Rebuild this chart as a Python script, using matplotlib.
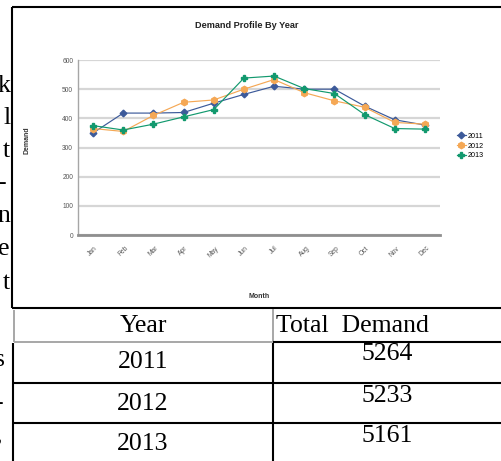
import matplotlib
matplotlib.use("Agg")
from matplotlib import pyplot as plt
from matplotlib.lines import Line2D

months = ["Jan", "Feb", "Mar", "Apr", "May", "Jun", "Jul", "Aug", "Sep", "Oct", "Nov", "Dec"]
years = ["2011", "2012", "2013"]
demand_2011 = [350, 418, 418, 420, 452, 482, 510, 500, 500, 442, 395, 377]
demand_2012 = [365, 355, 410, 455, 463, 500, 533, 488, 460, 438, 386, 380]
demand_2013 = [375, 360, 380, 405, 430, 538, 545, 502, 485, 413, 365, 363]
colors = ["#3c5a9a", "#f5a855", "#12996e"]
markers = ["D", "h", "P"]

W, H = 501, 461
chart_font = ["Liberation Sans", "DejaVu Sans"]
serif_font = ["Liberation Serif", "DejaVu Serif"]

fig = plt.figure(figsize=(W / 100, H / 100), dpi=100)

# page layer in pixel coordinates: chart frame, table grid, clipped body text
page = fig.add_axes([0, 0, 1, 1])
page.set_xlim(0, W)
page.set_ylim(H, 0)
page.axis("off")

def seg(x0, y0, x1, y1, color="black", lw=1.5):
    page.add_line(Line2D([x0, x1], [y0, y1], color=color, lw=lw, solid_capstyle="butt"))

# chart frame
seg(12.5, 7.5, W, 7.5)
seg(12.5, 7.5, 12.5, 308)
seg(12.5, 308, W, 308)

# table grid
col_x = 273
seg(14, 310, 14, 342, color="#a0a0a0", lw=1.3)
seg(14, 342, col_x, 342, color="#a0a0a0", lw=1.3)
seg(col_x, 309, col_x, 342, color="#a0a0a0", lw=1.3)
seg(col_x, 342, W, 342)
seg(13, 343, 13, H)
seg(col_x, 343, col_x, H)
for y in [383, 423]:
    seg(13, y, W, y)

page.text(143, 326, "Year", ha="center", va="center", fontsize=18.5, family=serif_font)
page.text(276, 326, "Total  Demand", ha="left", va="center", fontsize=18.5, family=serif_font)
series = [demand_2011, demand_2012, demand_2013]
totals = [sum(s) for s in series]
for yr, tot, yc, yv in zip(years, totals, [362, 404, 444], [354, 396, 436]):
    page.text(143, yc, yr, ha="center", va="center", fontsize=18.5, family=serif_font)
    page.text(387, yv, str(tot), ha="center", va="center", fontsize=18.5, family=serif_font)

# ends of body-text lines cut by the left margin
for ch, x, y in [("k", 10, 92), ("l", 11, 124), ("t", 10, 157), ("-", 7, 189),
                 ("n", 10, 222), ("e", 10, 255), ("t", 10, 289),
                 ("s", 5, 366), ("-", 4, 409), (",", 3, 441)]:
    page.text(x, y, ch, ha="right", va="baseline", fontsize=18.5, family=serif_font)

# line chart
ax = fig.add_axes([78 / W, 1 - 235 / H, (440 - 78) / W, (235 - 60) / H])
x = range(len(months))
for yr, vals, c, m in zip(years, series, colors, markers):
    ms = 3.4 if m == "D" else 4.6
    ax.plot(x, vals, color=c, lw=0.85, marker=m, markersize=ms, label=yr)

ax.set_xlim(-0.5, len(months) - 0.5)
ax.set_ylim(0, 600)
ax.set_yticks(range(0, 601, 100))
ax.set_xticks(list(x))
ax.set_xticklabels(months, rotation=45, ha="center", family=chart_font)
for lbl in ax.get_yticklabels():
    lbl.set_family(chart_font)
ax.tick_params(axis="both", length=0, labelsize=4.8, labelcolor="#555555")
ax.tick_params(axis="y", pad=3.5)
ax.tick_params(axis="x", pad=7)
ax.yaxis.grid(True, color="#d6d6d6", lw=1.6)
ax.set_axisbelow(True)
for side in ["top", "right"]:
    ax.spines[side].set_visible(False)
ax.spines["left"].set_color("#a6a6a6")
ax.spines["left"].set_linewidth(1.0)
ax.spines["bottom"].set_color("#8f8f8f")
ax.spines["bottom"].set_linewidth(2.0)

fig.text(247 / W, 1 - 25 / H, "Demand Profile By Year", ha="center", va="center",
         fontsize=6.6, fontweight="bold", family=chart_font, color="#222222")
fig.text(27 / W, 1 - 140 / H, "Demand", rotation=90, ha="center", va="center",
         fontsize=5, fontweight="bold", family=chart_font, color="#333333")
fig.text(259 / W, 1 - 296 / H, "Month", ha="center", va="center",
         fontsize=5, fontweight="bold", family=chart_font, color="#333333")

ax.legend(loc="center left", bbox_to_anchor=(453 / W, 1 - 146 / H), bbox_transform=fig.transFigure,
          frameon=False, handlelength=1.3, handletextpad=0.2, labelspacing=0.35,
          borderpad=0, prop={"family": chart_font, "size": 5.2})

fig.savefig("out.png", dpi=100)
